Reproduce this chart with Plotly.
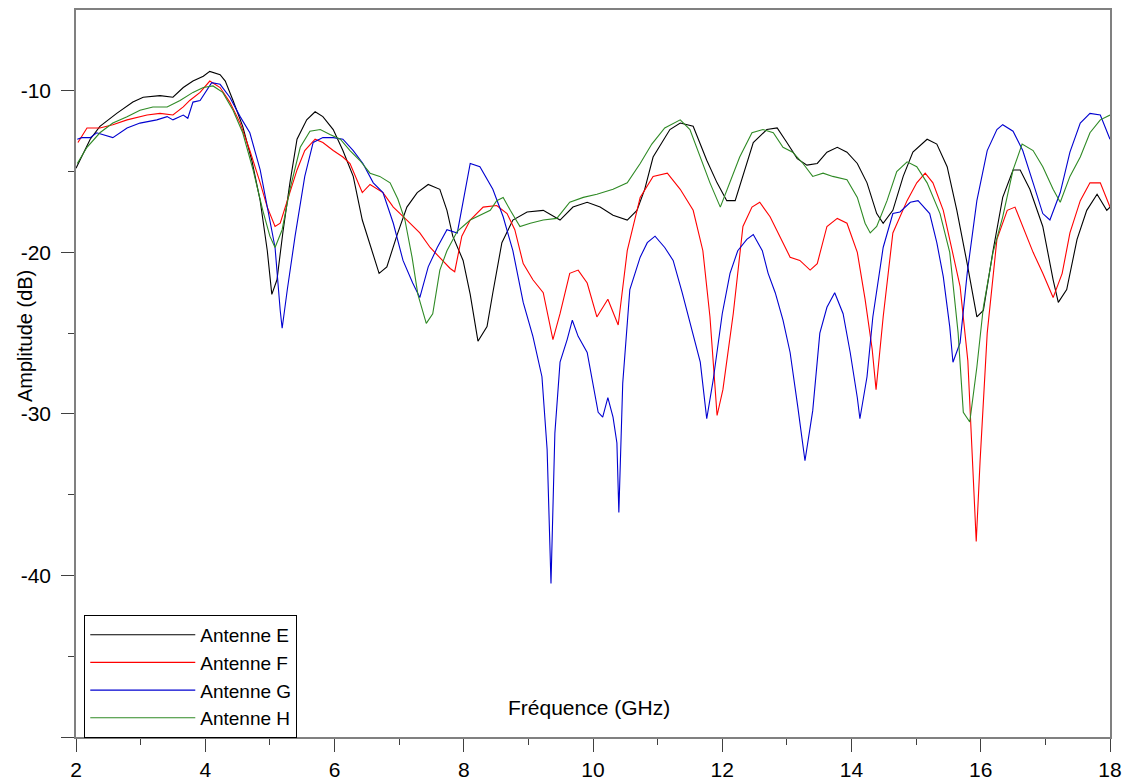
import plotly.graph_objects as go

# ---- Data ----
freq_E = [2.00, 2.06, 2.22, 2.37, 2.63, 2.88, 3.04, 3.30, 3.50, 3.66, 3.81, 3.97, 4.07, 4.23, 4.31, 4.43,
          4.58, 4.72, 4.85, 4.96, 5.03, 5.11, 5.20, 5.31, 5.42, 5.57, 5.70, 5.82, 5.98, 6.13, 6.29, 6.43,
          6.58, 6.69, 6.81, 6.97, 7.12, 7.28, 7.45, 7.63, 7.74, 7.83, 7.99, 8.10, 8.22, 8.36, 8.45, 8.59,
          8.76, 8.98, 9.23, 9.49, 9.69, 9.91, 10.11, 10.31, 10.53, 10.68, 10.80, 10.93, 11.19, 11.35, 11.55,
          11.76, 11.92, 12.07, 12.20, 12.32, 12.48, 12.69, 12.85, 13.00, 13.16, 13.31, 13.47, 13.62, 13.78,
          13.93, 14.09, 14.24, 14.39, 14.49, 14.64, 14.80, 14.95, 15.17, 15.32, 15.48, 15.63, 15.79, 15.94,
          16.04, 16.19, 16.34, 16.50, 16.61, 16.76, 16.96, 17.12, 17.20, 17.33, 17.49, 17.64, 17.80, 17.95, 18.00]
amp_E = [-14.8, -14.3, -13.0, -12.2, -11.4, -10.7, -10.4, -10.3, -10.4, -9.8, -9.4, -9.1, -8.8, -9.0, -9.4, -10.6,
         -12.2, -14.3, -16.8, -19.9, -22.6, -21.7, -18.8, -15.7, -13.0, -11.8, -11.3, -11.6, -12.4, -13.7, -15.3, -18.0,
         -19.9, -21.3, -20.9, -18.9, -17.2, -16.3, -15.8, -16.1, -17.4, -19.0, -20.5, -22.6, -25.5, -24.6, -22.5, -19.4,
         -18.0, -17.5, -17.4, -18.0, -17.2, -16.9, -17.2, -17.7, -18.0, -17.4, -16.1, -14.1, -12.4, -12.0, -12.2,
         -14.3, -15.7, -16.8, -16.8, -15.3, -13.2, -12.4, -12.3, -13.2, -14.2, -14.6, -14.5, -13.8, -13.5,
         -13.8, -14.5, -15.7, -17.6, -18.2, -17.4, -15.3, -13.8, -13.0, -13.3, -14.7, -17.4, -20.7, -24.0,
         -23.6, -19.9, -16.6, -14.9, -14.9, -16.1, -18.4, -21.7, -23.1, -22.3, -19.2, -17.4, -16.4, -17.4, -17.2]

freq_F = [2.03, 2.17, 2.37, 2.57, 2.79, 3.10, 3.30, 3.50, 3.66, 3.76, 3.92, 4.07, 4.23, 4.38, 4.54, 4.69,
          4.85, 4.96, 5.08, 5.16, 5.27, 5.42, 5.54, 5.70, 5.82, 5.98, 6.13, 6.24, 6.43, 6.55, 6.75, 6.91,
          7.12, 7.32, 7.48, 7.63, 7.79, 7.86, 7.97, 8.10, 8.30, 8.51, 8.67, 8.79, 8.92, 9.07, 9.23, 9.38,
          9.49, 9.64, 9.77, 9.91, 10.06, 10.23, 10.39, 10.53, 10.73, 10.93, 11.15, 11.35, 11.55, 11.70,
          11.81, 11.92, 12.01, 12.17, 12.32, 12.46, 12.58, 12.74, 12.89, 13.05, 13.20, 13.36, 13.47, 13.62,
          13.78, 13.93, 14.09, 14.21, 14.32, 14.38, 14.49, 14.64, 14.86, 15.01, 15.14, 15.26, 15.42, 15.56,
          15.68, 15.80, 15.88, 15.93, 15.99, 16.10, 16.25, 16.41, 16.53, 16.65, 16.81, 16.96, 17.12, 17.26,
          17.38, 17.54, 17.69, 17.85, 18.00]
amp_F = [-13.2, -12.3, -12.3, -12.1, -11.8, -11.5, -11.4, -11.5, -11.0, -10.6, -10.1, -9.4, -9.8, -10.7, -12.0, -13.7,
         -15.7, -17.2, -18.4, -18.2, -16.8, -14.9, -13.7, -13.0, -13.2, -13.7, -14.1, -14.5, -16.3, -15.8, -16.3, -17.2,
         -18.0, -18.8, -19.7, -20.3, -21.0, -21.2, -19.0, -18.0, -17.2, -17.1, -17.6, -18.6, -20.7, -21.7, -22.5, -25.4,
         -23.8, -21.3, -21.1, -21.9, -24.0, -22.9, -24.5, -19.9, -16.6, -15.3, -15.1, -16.1, -17.4, -19.9,
         -24.0, -30.1, -28.5, -23.8, -18.4, -17.2, -16.9, -17.8, -19.0, -20.3, -20.5, -21.1, -20.7, -18.4,
         -17.9, -18.2, -20.0, -22.9, -26.0, -28.5, -24.0, -18.8, -16.8, -15.7, -15.1, -15.7, -17.4, -19.9,
         -22.1, -26.7, -33.3, -37.9, -32.9, -25.0, -19.2, -17.4, -17.2, -18.4, -20.0, -21.3, -22.8, -21.3,
         -18.8, -16.8, -15.7, -15.7, -17.2]

freq_G = [2.02, 2.09, 2.22, 2.32, 2.57, 2.79, 2.99, 3.25, 3.41, 3.50, 3.66, 3.73, 3.81, 3.92, 4.10, 4.23,
          4.38, 4.54, 4.69, 4.85, 4.97, 5.08, 5.16, 5.19, 5.27, 5.39, 5.54, 5.67, 5.82, 5.98, 6.13, 6.29,
          6.44, 6.60, 6.75, 6.91, 7.06, 7.21, 7.32, 7.45, 7.59, 7.74, 7.90, 7.99, 8.10, 8.25, 8.45, 8.61,
          8.76, 8.92, 9.07, 9.21, 9.29, 9.35, 9.41, 9.49, 9.60, 9.68, 9.77, 9.91, 10.00, 10.08, 10.15, 10.23,
          10.31, 10.37, 10.40, 10.46, 10.57, 10.73, 10.84, 10.96, 11.11, 11.24, 11.38, 11.50, 11.66, 11.76,
          11.86, 12.00, 12.12, 12.24, 12.38, 12.48, 12.62, 12.71, 12.82, 12.94, 13.05, 13.17, 13.28, 13.40,
          13.51, 13.62, 13.74, 13.87, 13.98, 14.09, 14.13, 14.24, 14.33, 14.49, 14.64, 14.75, 14.91, 15.03,
          15.21, 15.32, 15.42, 15.52, 15.57, 15.68, 15.79, 15.94, 16.10, 16.25, 16.34, 16.50, 16.65, 16.81,
          16.96, 17.07, 17.23, 17.38, 17.54, 17.69, 17.85, 18.00]
amp_G = [-13.0, -12.9, -12.9, -12.6, -12.9, -12.3, -12.0, -11.8, -11.6, -11.8, -11.5, -11.7, -10.7, -10.6, -9.5, -9.6,
         -10.4, -11.6, -12.6, -14.9, -17.4, -19.7, -23.6, -24.7, -22.3, -19.0, -15.3, -13.2, -12.9, -12.9, -13.0, -13.7,
         -14.5, -15.7, -16.3, -18.2, -20.5, -21.9, -22.8, -20.9, -19.7, -18.6, -18.8, -16.9, -14.5, -14.7, -16.1, -17.8,
         -19.9, -23.1, -25.2, -27.7, -32.2, -40.5, -31.2, -26.8, -25.4, -24.2, -25.2, -26.2, -28.1, -29.9, -30.2, -29.0,
         -30.2, -31.8, -36.1, -28.1, -22.3, -20.3, -19.4, -19.0, -19.7, -20.5, -22.5, -24.4, -26.8, -30.3,
         -27.9, -23.8, -21.3, -19.9, -19.2, -18.9, -19.9, -21.3, -22.5, -24.2, -26.2, -29.6, -32.9, -29.8,
         -25.0, -23.4, -22.5, -23.8, -26.2, -29.0, -30.3, -27.7, -24.0, -19.7, -17.6, -17.5, -16.9, -16.8,
         -17.6, -19.4, -21.5, -24.6, -26.8, -25.6, -21.3, -16.8, -13.7, -12.4, -12.1, -12.5, -13.7, -15.7,
         -17.6, -18.0, -16.3, -13.8, -12.0, -11.4, -11.5, -13.0]

freq_H = [2.02, 2.17, 2.37, 2.57, 2.79, 2.99, 3.19, 3.41, 3.61, 3.81, 3.97, 4.12, 4.27, 4.43, 4.58, 4.74,
          4.89, 5.00, 5.08, 5.19, 5.31, 5.47, 5.62, 5.78, 5.93, 6.09, 6.24, 6.39, 6.55, 6.70, 6.86, 6.98,
          7.09, 7.20, 7.29, 7.42, 7.52, 7.63, 7.74, 7.90, 8.10, 8.30, 8.41, 8.51, 8.61, 8.72, 8.87, 9.03,
          9.23, 9.44, 9.64, 9.85, 10.06, 10.31, 10.53, 10.73, 10.91, 11.11, 11.35, 11.50, 11.66, 11.81,
          11.97, 12.12, 12.27, 12.46, 12.63, 12.79, 12.94, 13.09, 13.25, 13.40, 13.56, 13.71, 13.93, 14.09,
          14.21, 14.29, 14.39, 14.55, 14.70, 14.86, 15.01, 15.17, 15.37, 15.52, 15.65, 15.73, 15.83, 15.94,
          16.04, 16.19, 16.34, 16.50, 16.64, 16.81, 16.96, 17.12, 17.23, 17.38, 17.54, 17.69, 17.85, 18.00]
amp_H = [-14.5, -13.5, -12.6, -12.0, -11.6, -11.2, -11.0, -11.0, -10.6, -10.1, -9.8, -9.7, -10.1, -11.2, -12.6, -14.9,
         -17.4, -19.0, -19.7, -18.6, -16.1, -13.5, -12.5, -12.4, -12.7, -13.0, -13.7, -14.3, -15.1, -15.3, -15.7, -16.7,
         -18.0, -20.3, -22.6, -24.4, -23.8, -21.1, -19.9, -18.7, -18.0, -17.6, -17.4, -16.8, -16.6, -17.4, -18.4, -18.2,
         -18.0, -17.9, -16.9, -16.6, -16.4, -16.1, -15.7, -14.5, -13.3, -12.3, -11.8, -12.4, -14.1, -15.7,
         -17.2, -15.7, -14.1, -12.6, -12.4, -12.6, -13.5, -13.8, -14.5, -15.3, -15.1, -15.3, -15.5, -16.6,
         -18.2, -18.8, -18.4, -16.8, -15.0, -14.4, -14.7, -15.7, -17.6, -20.0, -25.0, -29.9, -30.5, -27.1,
         -23.4, -20.0, -17.8, -14.9, -13.3, -13.7, -14.7, -16.1, -16.9, -15.3, -14.1, -12.6, -11.8, -11.5]

series = [
    ("Antenne E", freq_E, amp_E, "#000000"),
    ("Antenne F", freq_F, amp_F, "#ff0000"),
    ("Antenne G", freq_G, amp_G, "#0000d0"),
    ("Antenne H", freq_H, amp_H, "#2f8a25"),
]

x_ticks = [2, 4, 6, 8, 10, 12, 14, 16, 18]
x_minor = [3, 5, 7, 9, 11, 13, 15, 17]
y_ticks = [-50, -40, -30, -20, -10]
y_tick_labels = ["", "-40", "-30", "-20", "-10"]
y_minor = [-45, -35, -25, -15]

FONT = "Arial, 'Liberation Sans', sans-serif"

fig = go.Figure()
for name, fx, ay, col in series:
    fig.add_trace(go.Scatter(x=fx, y=ay, mode="lines", name=name,
                             line=dict(color=col, width=1.1)))

fig.update_layout(
    width=1127, height=780,
    margin=dict(l=76, r=17, t=10, b=43, autoexpand=False),
    paper_bgcolor="white", plot_bgcolor="white",
    font=dict(family=FONT, color="black"),
    showlegend=True,
    legend=dict(x=0.008, y=0.168, xanchor="left", yanchor="top",
                bordercolor="black", borderwidth=1, bgcolor="white",
                font=dict(size=19, family=FONT), itemwidth=105,
                tracegroupgap=0),
    xaxis=dict(range=[2, 18], tickmode="array", tickvals=x_ticks, automargin=False,
               showgrid=False, zeroline=False, showline=True, linecolor="#808080",
               linewidth=1.5, mirror=True, ticks="outside", ticklen=13, tickwidth=1.3,
               tickcolor="#404040", tickfont=dict(size=21, family=FONT),
               minor=dict(tickvals=x_minor, ticks="outside",
                          ticklen=6, tickwidth=1, tickcolor="#404040", showgrid=False)),
    yaxis=dict(range=[-50, -5], tickmode="array", tickvals=y_ticks, ticktext=y_tick_labels,
               automargin=False,
               showgrid=False, zeroline=False, showline=True, linecolor="#808080",
               linewidth=1.5, mirror=True, ticks="outside", ticklen=13, tickwidth=1.3,
               tickcolor="#404040", tickfont=dict(size=21, family=FONT), ticklabelstandoff=6,
               minor=dict(tickvals=y_minor, ticks="outside",
                          ticklen=6, tickwidth=1, tickcolor="#404040", showgrid=False)),
    annotations=[
        dict(text="Amplitude (dB)", textangle=-90, xref="paper", yref="paper",
             x=-0.0493, y=0.5516, xanchor="center", yanchor="middle", showarrow=False,
             font=dict(size=20, family=FONT)),
        dict(text="Fréquence (GHz)", xref="paper", yref="paper",
             x=0.496, y=0.040, xanchor="center", yanchor="middle", showarrow=False,
             font=dict(size=21, family=FONT)),
    ],
)

fig.write_html("out.html")
